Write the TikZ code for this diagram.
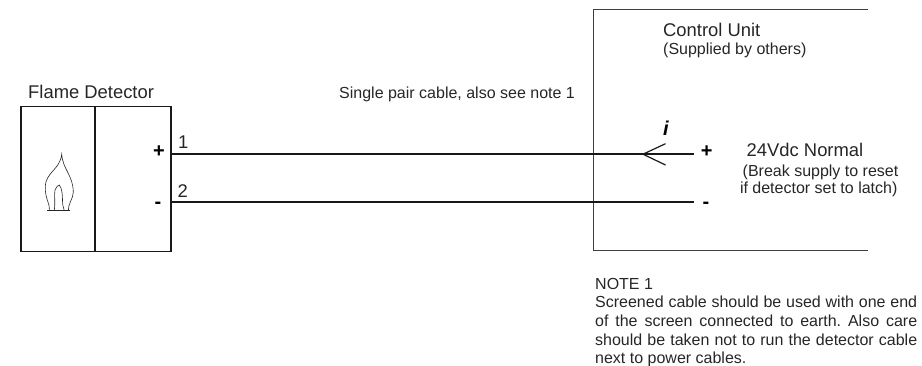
\documentclass[tikz,border=0pt]{standalone}
\usepackage{fontspec}
\setmainfont{Liberation Sans}
\frenchspacing
\newcommand{\noteline}[1]{\makebox[322pt][s]{#1}}
\tikzset{
  txt/.style={inner sep=0pt,anchor=base west,text=black!85},
  big/.style={txt,font=\fontsize{18.4}{20}\selectfont},
  small/.style={txt,font=\fontsize{16}{18}\selectfont},
  sign/.style={inner sep=0pt,anchor=base,font=\fontsize{20}{22}\bfseries\selectfont},
  heavy/.style={line width=1.5pt,black!90},
  wire/.style={line width=1.6pt,black!90},
  thin line/.style={line width=0.9pt,black!75},
  flame/.style={line width=0.6pt,black!85}
}
\begin{document}
\begin{tikzpicture}[x=1pt,y=-1pt]
\useasboundingbox (0,0) rectangle (922,366);
% detector
\node[draw,heavy,minimum width=150pt,minimum height=145pt,inner sep=0pt,anchor=north west] (det) at (20,106) {};
\coordinate (divT) at (95,106);
\coordinate (divB) at (95,251);
\draw[heavy] (divT) -- (divB);
\node[big] (dettitle) at (28,99) {Flame Detector};
% flame
\draw[flame] (47.3,210.7) -- (69.7,210.7);
\draw[flame] (49.5,210.7) .. controls (50,203) and (45,199) .. (45.3,187)
  .. controls (45.5,172) and (60,170) .. (61.7,154.3)
  .. controls (63,170) and (73,175) .. (73.3,192)
  .. controls (73.3,199) and (68,203) .. (68.5,210.7);
\draw[flame] (54.3,210.7) .. controls (55.5,203) and (54,195) .. (55,190)
  .. controls (55.5,187) and (58,186) .. (59.3,185)
  .. controls (62,188) and (62.5,195) .. (62.5,200)
  .. controls (62.5,204) and (63,207) .. (64.3,210.7);
% terminals
\node[sign] (dplus) at (159,157.4) {+};
\node[sign] (dminus) at (158,209) {-};
\node[big] (n1) at (178,149) {1};
\node[big] (n2) at (177.5,197.5) {2};
% control unit
\coordinate (cuTR) at (868,9.3);
\coordinate (cuTL) at (593.5,9.3);
\coordinate (cuBL) at (593.5,250.5);
\coordinate (cuBR) at (868,250.5);
\draw[thin line] (cuTR) -- (cuTL) -- (cuBL) -- (cuBR);
\node[big] (cu) at (663,36.5) {Control Unit};
\node[small] (cus) at (663,55) {(Supplied by others)};
% wires
\coordinate (w1e) at (694,154.2);
\coordinate (w2e) at (694,202.2);
\draw[wire] (det.east |- w1e) -- (w1e);
\draw[wire] (det.east |- w2e) -- (w2e);
\coordinate (tip) at (643,154.2);
\coordinate (ua) at (665.5,143.7);
\coordinate (ub) at (665.5,165);
\draw[line width=1.2pt,black!90] (ua) -- (tip) -- (ub);
\node[inner sep=0pt,anchor=base,font=\fontsize{20}{22}\bfseries\itshape\selectfont] (i) at (666,136) {i};
\node[sign] (cplus) at (706.7,157.8) {+};
\node[sign] (cminus) at (706,209) {-};
\node[big] (v) at (746.5,157) {24Vdc Normal};
\node[small] (b1) at (742.5,176.5) {(Break supply to reset};
\node[small] (b2) at (739.8,193.5) {if detector set to latch)};
\node[small] (cable) at (339,99) {Single pair cable, also see note 1};
% note
\node[small] (n0) at (595,290) {NOTE 1};
\node[small] (n3) at (595,308) {\noteline{Screened cable should be used with one end}};
\node[small] (n4) at (595,326.7) {\noteline{of the screen connected to earth. Also care}};
\node[small] (n5) at (595,345) {\noteline{should be taken not to run the detector cable}};
\node[small] (n6) at (595,363.3) {next to power cables.};
\end{tikzpicture}
\end{document}
